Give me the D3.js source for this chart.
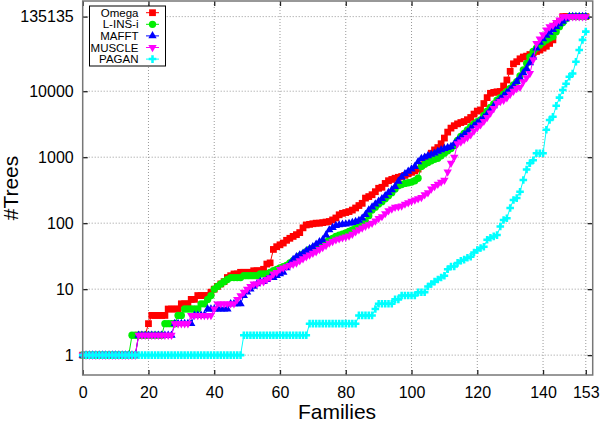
<!DOCTYPE html>
<html>
<head>
<meta charset="utf-8">
<script src="https://cdn.jsdelivr.net/npm/d3@7"></script>
<style>
  body { margin: 0; background: #fff; }
  svg text { font-family: "Liberation Sans", Arial, sans-serif; fill: #000; }
</style>
</head>
<body>
<div id="chart"></div>
<script>
// families index, one per sorted family
var families = d3.range(0, 154);

var omega = [
  1,1,1,1,1,1,1,1,1,1, 1,1,1,1,1,1,1,2,2,2,
  3,4,4,4,4,4,5,5,5,5, 6,6,6,7,7,8,8,8,8,9,
  10,11,12,13,15,16,17,17,18,18, 18,18,19,19,19,20,24,25,40,44,
  47,50,55,59,63,67,72,85,94,96, 98,100,100,102,104,106,112,120,134,141,
  145,150,158,170,185,200,240,253,270,300, 338,350,400,440,460,480,496,510,530,560,
  590,620,660,750,860,1000,1150,1290,1400,1600, 1950,2400,2760,3000,3200,3350,3470,3700,4000,4500,
  5000,5200,6500,8000,9300,9600,9800,9900,12000,14800, 20000,26000,28000,31000,33000,34000,36000,38000,40000,42000,
  45000,48000,53000,60000,100000,110000,135135,135135,135135,135135, 135135,135135,135135,135135
];

var linsi = [
  1,1,1,1,1,1,1,1,1,1, 1,1,1,1,1,2,2,2,2,2,
  2,2,2,2,2,3,3,3,3,4, 4,5,5,5,5,5,6,6,7,8,
  10,11,12,13,14,15,15,15,15,16, 16,16,16,16,17,17,17,18,19,20,
  21,22,23,25,27,29,32,34,37,40, 42,44,47,50,52,56,59,63,66,68,
  71,75,79,84,89,95,105,130,158,175, 195,212,235,260,290,330,370,385,400,410,
  420,440,480,725,780,830,880,930,965,1050, 1150,1250,1350,1500,1800,2070,2300,2600,2900,3200,
  3450,3660,4300,5000,5700,6400,7300,8000,9000,9900, 11000,12500,14000,17000,21000,26500,33000,40000,45000,50000,
  55000,60000,64000,67000,80000,95000,110000,125000,135135,135135, 135135,135135,135135,135135
];

var mafft = [
  1,1,1,1,1,1,1,1,1,1, 1,1,1,1,1,1,1,2,2,2,
  2,2,2,2,2,2,2,2,3,3, 3,3,3,3,4,4,4,4,5,5,
  5,5,5,5,5,6,6,6,6,8, 9,10,11,12,13,13,14,15,15,16,
  17,18,21,24,28,31,33,35,38,41, 44,48,52,56,66,79,86,92,94,96,
  97,99,102,106,110,119,135,158,175,195, 215,235,260,290,320,360,430,500,560,610,
  660,720,850,950,1000,1050,1100,1150,1230,1290, 1350,1400,1450,1600,1800,2000,2200,2400,2700,3000,
  3300,3600,4000,4500,5200,6000,6800,7600,8500,9500, 10500,12000,14000,16000,19000,22000,27000,33000,45000,55000,
  62000,70000,78000,86000,95000,105000,115000,125000,135135,135135, 135135,135135,135135,135135
];

var muscle = [
  1,1,1,1,1,1,1,1,1,1, 1,1,1,1,1,1,1,2,2,2,
  2,2,2,2,2,2,2,2,3,3, 3,3,3,4,4,4,4,4,4,4,
  5,6,6,6,6,6,6,7,8,9, 10,11,12,12,13,13,14,15,17,18,
  20,21,22,23,24,25,27,29,31,33, 35,37,40,43,46,50,53,56,58,60,
  62,64,68,74,80,85,90,95,100,108, 118,126,140,155,165,175,178,182,195,205,
  215,225,235,245,270,290,330,360,390,420, 450,600,810,1000,1600,1700,1850,2000,2200,2500,
  2800,3100,3500,4000,4700,5500,6600,7000,7300,8000, 9000,10000,11000,11500,14000,16000,18600,30000,53000,62000,
  72000,85000,95000,100000,110000,120000,135135,135135,135135,135135, 135135,135135,135135,135135
];

var pagan = [
  1,1,1,1,1,1,1,1,1,1, 1,1,1,1,1,1,1,1,1,1,
  1,1,1,1,1,1,1,1,1,1, 1,1,1,1,1,1,1,1,1,1,
  1,1,1,1,1,1,1,1,1,2, 2,2,2,2,2,2,2,2,2,2,
  2,2,2,2,2,2,2,2,2,3, 3,3,3,3,3,3,3,3,3,3,
  3,3,3,3,4,4,4,4,4,5, 6,6,6,6,6,7,7,8,8,8,
  8,8,9,9,9,11,12,13,14,15, 16,20,22,22,25,27,28,30,31,36,
  39,42,44,56,60,63,66,89,112,119, 170,225,240,300,450,650,810,900,1150,1150,
  1150,2600,3660,4100,6000,8000,10400,13000,16600,18600, 28000,42000,60000,80000
];

var seriesNames = ["Omega", "L-INS-i", "MAFFT", "MUSCLE", "PAGAN"];
var seriesColors = ["#ff0000", "#00ee00", "#0000ff", "#ff00ff", "#00ffff"];
var seriesValues = [omega, linsi, mafft, muscle, pagan];
var seriesSymbols = [d3.symbolSquare, d3.symbolCircle, d3.symbolTriangle, d3.symbolTriangle, d3.symbolCross];
var symbolSizes = [46, 42, 30, 30, 32];

var xTicks = [0, 20, 40, 60, 80, 100, 120, 140, 153];
var yTicks = [1, 10, 100, 1000, 10000, 135135];

var width = 600, height = 422;
var plotLeft = 82.7, plotRight = 592.7, plotTop = 1, plotBottom = 375;

var svg = d3.select("#chart")
  .append("svg")
    .attr("width", width)
    .attr("height", height);

var x = d3.scaleLinear().domain([0, 155.1]).range([plotLeft, plotRight]);
var y = d3.scaleLog().domain([0.5, 233000]).range([plotBottom, plotTop]);

// grid
svg.append("g")
  .selectAll("line")
  .data(xTicks.slice(1))
  .enter().append("line")
    .attr("x1", function(d) { return x(d); })
    .attr("x2", function(d) { return x(d); })
    .attr("y1", plotTop)
    .attr("y2", plotBottom)
    .style("stroke", "#999")
    .style("stroke-dasharray", "1,2");

svg.append("g")
  .selectAll("line")
  .data(yTicks)
  .enter().append("line")
    .attr("x1", plotLeft)
    .attr("x2", plotRight)
    .attr("y1", function(d) { return y(d); })
    .attr("y2", function(d) { return y(d); })
    .style("stroke", "#999")
    .style("stroke-dasharray", "1,2");

// axes, ticks pointing inward and mirrored like gnuplot
var xAxis = d3.axisBottom(x).tickValues(xTicks).tickSize(-5).tickPadding(12).tickFormat(d3.format("d"));
var xAxisTop = d3.axisTop(x).tickValues(xTicks).tickSize(-5).tickFormat("");
var yAxis = d3.axisLeft(y).tickValues(yTicks).tickSize(-5).tickPadding(9).tickFormat(d3.format("d"));
var yAxisRight = d3.axisRight(y).tickValues(yTicks).tickSize(-5).tickFormat("");

var gx = svg.append("g").attr("transform", "translate(0," + plotBottom + ")").call(xAxis);
var gxt = svg.append("g").attr("transform", "translate(0," + plotTop + ")").call(xAxisTop);
var gy = svg.append("g").attr("transform", "translate(" + plotLeft + ",0)").call(yAxis);
var gyr = svg.append("g").attr("transform", "translate(" + plotRight + ",0)").call(yAxisRight);

[gx, gxt, gy, gyr].forEach(function(g) {
  g.select(".domain").remove();
  g.selectAll(".tick line").style("stroke", "#222").style("stroke-width", 1.3);
  g.selectAll("text")
    .style("font-family", "'Liberation Sans', Arial, sans-serif")
    .style("font-size", "16px")
    .style("fill", "#000");
});

// curves
seriesValues.forEach(function(vals, i) {
  var pts = families.map(function(f) { return [f, vals[f]]; });
  var line = d3.line()
    .x(function(d) { return x(d[0]); })
    .y(function(d) { return y(d[1]); });

  svg.append("path")
    .datum(pts)
    .attr("d", line)
    .style("fill", "none")
    .style("stroke", seriesColors[i])
    .style("stroke-width", 1);

  var sym = d3.symbol().type(seriesSymbols[i]).size(symbolSizes[i]);
  svg.append("g")
    .selectAll("path")
    .data(pts)
    .enter().append("path")
      .attr("d", sym)
      .attr("transform", function(d) {
        var r = (i == 3) ? " rotate(180)" : "";
        return "translate(" + x(d[0]) + "," + y(d[1]) + ")" + r;
      })
      .style("fill", seriesColors[i]);
});

// frame
svg.append("rect")
  .attr("x", plotLeft)
  .attr("y", plotTop)
  .attr("width", plotRight - plotLeft)
  .attr("height", plotBottom - plotTop)
  .style("fill", "none")
  .style("stroke", "#777")
  .style("stroke-width", 1.5);

// legend
var legend = svg.append("g");
legend.append("rect")
  .attr("x", 89.5)
  .attr("y", 6)
  .attr("width", 76)
  .attr("height", 60)
  .style("fill", "#fff")
  .style("stroke", "#000")
  .style("stroke-width", 1);

seriesNames.forEach(function(name, i) {
  var ly = 12.7 + i * 11.6;
  legend.append("text")
    .attr("x", 138.5)
    .attr("y", ly + 4)
    .attr("text-anchor", "end")
    .style("font-size", "11.5px")
    .text(name);
  legend.append("line")
    .attr("x1", 146)
    .attr("x2", 159)
    .attr("y1", ly)
    .attr("y2", ly)
    .style("stroke", seriesColors[i])
    .style("stroke-width", 1);
  legend.append("path")
    .attr("d", d3.symbol().type(seriesSymbols[i]).size(symbolSizes[i]))
    .attr("transform", "translate(152.5," + ly + ")" + (i == 3 ? " rotate(180)" : ""))
    .style("fill", seriesColors[i]);
});

// axis titles
svg.append("text")
  .attr("x", 337)
  .attr("y", 419)
  .attr("text-anchor", "middle")
  .style("font-size", "21px")
  .text("Families");

svg.append("text")
  .attr("transform", "translate(18,188) rotate(-90)")
  .attr("text-anchor", "middle")
  .style("font-size", "21px")
  .text("#Trees");
</script>
</body>
</html>
